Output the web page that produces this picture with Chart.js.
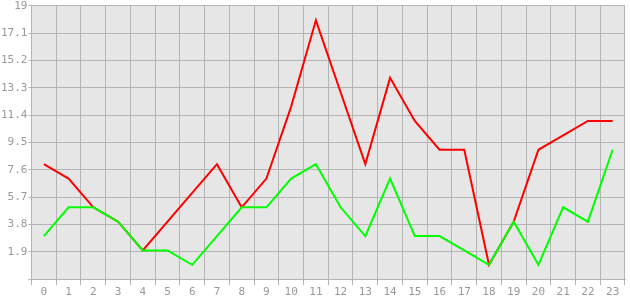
<!DOCTYPE html>
<html><head><meta charset="utf-8">
<script src="https://cdn.jsdelivr.net/npm/chart.js@4/dist/chart.umd.min.js"></script>
<style>html,body{margin:0;padding:0;background:#fff}#w{width:630px;height:300px}</style>
</head><body><div id="w"><canvas id="c"></canvas></div>
<script>
const categories = ['0','1','2','3','4','5','6','7','8','9','10','11','12','13','14','15','16','17','18','19','20','21','22','23'];
const redValues = [8,7,5,4,2,4,6,8,5,7,12,18,13,8,14,11,9,9,1,4,9,10,11,11];
const greenValues = [3,5,5,4,2,2,1,3,5,5,7,8,5,3,7,3,3,2,1,4,1,5,4,9];
const yTicks = [0,1.9,3.8,5.7,7.6,9.5,11.4,13.3,15.2,17.1,19];

const bgPlugin = {id:'bg', beforeDraw(chart){const a=chart.chartArea,ctx=chart.ctx;ctx.save();ctx.fillStyle='#e6e6e6';ctx.fillRect(a.left,a.top,a.right-a.left,a.bottom-a.top);ctx.restore();}};

new Chart(document.getElementById('c'), {
  type:'line',
  data:{labels:categories, datasets:[
    {data:greenValues, borderColor:'#00ff00', borderWidth:2, pointRadius:0, tension:0, fill:false},
    {data:redValues, borderColor:'#ff0000', borderWidth:2, pointRadius:0, tension:0, fill:false}
  ]},
  options:{responsive:true, maintainAspectRatio:false, animation:false,
    layout:{padding:{top:0,right:5,left:0,bottom:0}},
    plugins:{legend:{display:false}, tooltip:{enabled:false}},
    scales:{
      x:{offset:true, grid:{offset:true, color:'#b4b4b4', lineWidth:1, tickLength:6, drawTicks:true},
         border:{color:'#b4b4b4'},
         ticks:{color:'#999', font:{family:'DejaVu Sans Mono', size:11, lineHeight:0.8}, padding:3, maxRotation:0, autoSkip:false}},
      y:{min:0, max:19, afterBuildTicks(ax){ax.ticks=yTicks.map(v=>({value:v}));},
         grid:{color:'#b4b4b4', lineWidth:1, tickLength:3},
         border:{color:'#b4b4b4'},
         ticks:{color:'#999', font:{family:'DejaVu Sans Mono', size:11, lineHeight:0.9}, padding:1,
           callback:(v)=> v===0 ? '' : String(v)}}
    }
  },
  plugins:[bgPlugin]
});
</script></body></html>
